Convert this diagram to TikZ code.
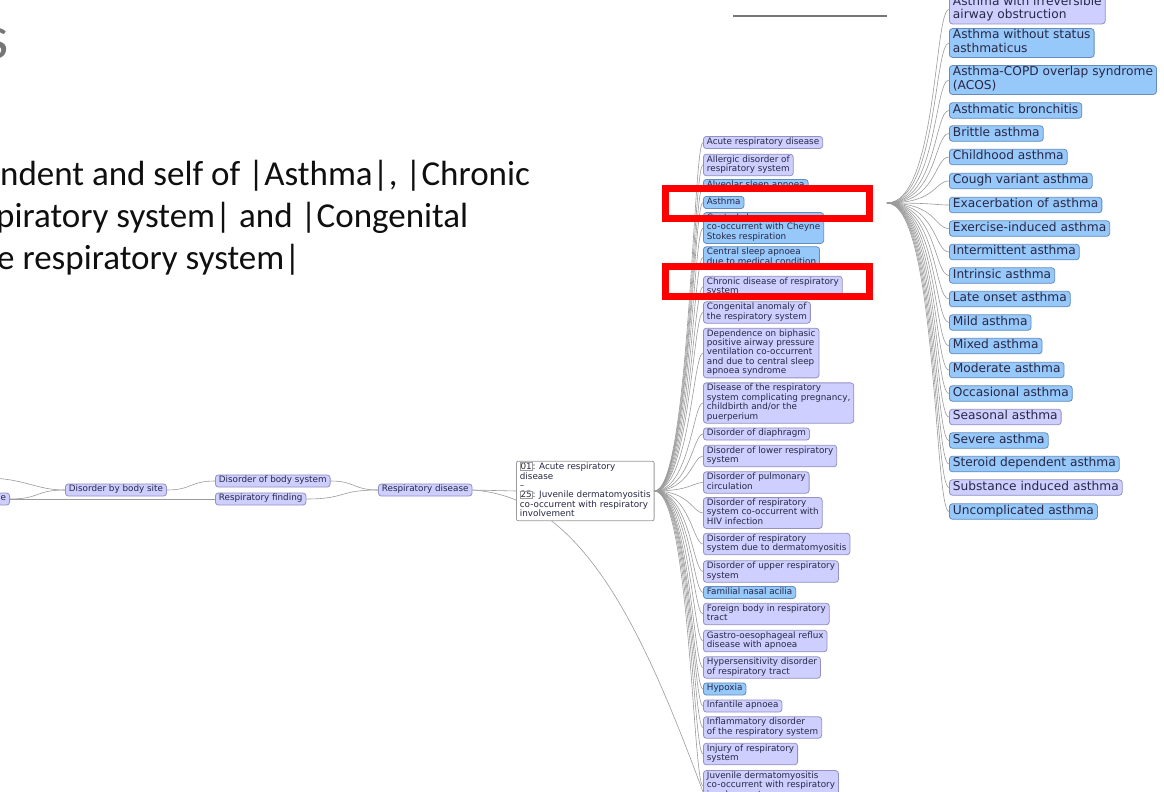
\documentclass[tikz,border=0pt]{standalone}
\usepackage{fontspec}
\setmainfont{Carlito}
\newfontfamily\vf{DejaVu Sans}
\usetikzlibrary{calc,backgrounds}
\definecolor{lavf}{RGB}{206,206,255}
\definecolor{lavd}{RGB}{145,145,195}
\definecolor{bluf}{RGB}{150,200,250}
\definecolor{blud}{RGB}{100,140,190}
\definecolor{ntxt}{RGB}{40,40,70}
\definecolor{lnk}{RGB}{155,155,155}
\definecolor{slidetxt}{RGB}{15,15,15}
\definecolor{titlegray}{RGB}{118,118,118}
\setlength{\fboxsep}{0.4pt}
\setlength{\fboxrule}{0.3pt}
\begin{document}
\begin{tikzpicture}[x=1pt,y=-1pt,
  nd/.style={draw, rounded corners=3pt, inner xsep=3.5pt, inner ysep=1.3pt, align=left, anchor=west,
    text=ntxt, font=\vf\fontsize{8.8}{9.4}\selectfont, execute at begin node=\strut, execute at end node=\strut, line width=0.8pt},
  lav/.style={nd, fill=lavf, draw=lavd},
  blu/.style={nd, fill=bluf, draw=blud},
  big/.style={font=\vf\fontsize{12.2}{13.5}\selectfont, inner ysep=1pt},
  infobox/.style={nd, fill=white, draw=lnk, rounded corners=2pt},
  link/.style={draw=lnk, line width=0.6pt},
  redbox/.style={draw=red, line width=7pt},
  slide/.style={anchor=base west, inner sep=0pt, text=slidetxt, font=\fontsize{35}{42}\selectfont},
]
\useasboundingbox (0,0) rectangle (1164,792);
\clip (0,0) rectangle (1164,792);

% slide text
\node[anchor=base east, inner sep=0pt, text=titlegray, font=\fontsize{62}{62}\selectfont] (ts) at (9,59) {s};
\node[slide] (t1) at (0,185) {ndent and self of |Asthma|, |Chronic};
\node[slide] (t2) at (-4,227) {piratory system| and |Congenital};
\node[slide] (t3) at (-3,269) {e respiratory system|};

% left tree
\node[lav, anchor=east] (ee) at (10,499) {e};
\node[lav] (dbs) at (65,490) {Disorder by body site};
\node[lav] (dobs) at (215,481) {Disorder of body system};
\node[lav] (rf) at (215,499) {Respiratory finding};
\node[lav] (rd) at (378,490) {Respiratory disease};
\node[infobox] (bx) at (516,491) {\fcolorbox{lnk}{white}{01}: Acute respiratory\\disease\\\textendash\\\fcolorbox{lnk}{white}{25}: Juvenile dermatomyositis\\co-occurrent with respiratory\\involvement};

% middle column
\node[lav] (m1) at (703,142.5) {Acute respiratory disease};
\node[lav] (m2) at (703,165) {Allergic disorder of\\respiratory system};
\node[blu] (m3) at (703,185.5) {Alveolar sleep apnoea};
\node[blu] (m4) at (703,202.5) {Asthma};
\node[blu] (m5) at (703,228) {Central sleep apnoea\\co-occurrent with Cheyne\\Stokes respiration};
\node[blu] (m6) at (703,257.5) {Central sleep apnoea\\due to medical condition};
\node[lav] (m7) at (703,287) {Chronic disease of respiratory\\system};
\node[lav] (m8) at (703,312.5) {Congenital anomaly of\\the respiratory system};
\node[lav] (m9) at (703,353) {Dependence on biphasic\\positive airway pressure\\ventilation co-occurrent\\and due to central sleep\\apnoea syndrome};
\node[lav] (m10) at (703,403) {Disease of the respiratory\\system complicating pregnancy,\\childbirth and/or the\\puerperium};
\node[lav] (m11) at (703,434) {Disorder of diaphragm};
\node[lav] (m12) at (703,456) {Disorder of lower respiratory\\system};
\node[lav] (m13) at (703,482.5) {Disorder of pulmonary\\circulation};
\node[lav] (m14) at (703,513) {Disorder of respiratory\\system co-occurrent with\\HIV infection};
\node[lav] (m15) at (703,544) {Disorder of respiratory\\system due to dermatomyositis};
\node[lav] (m16) at (703,571.5) {Disorder of upper respiratory\\system};
\node[blu] (m17) at (703,592.5) {Familial nasal acilia};
\node[lav] (m18) at (703,614) {Foreign body in respiratory\\tract};
\node[lav] (m19) at (703,641) {Gastro-oesophageal reflux\\disease with apnoea};
\node[lav] (m20) at (703,667.5) {Hypersensitivity disorder\\of respiratory tract};
\node[blu] (m21) at (703,689) {Hypoxia};
\node[lav] (m22) at (703,706) {Infantile apnoea};
\node[lav] (m23) at (703,727.5) {Inflammatory disorder\\of the respiratory system};
\node[lav] (m24) at (703,754) {Injury of respiratory\\system};
\node[lav] (m25) at (703,786) {Juvenile dermatomyositis\\co-occurrent with respiratory\\involvement};

% right column
\node[lav,big] (r0) at (949,9.5) {Asthma with irreversible\\airway obstruction};
\node[blu,big] (r1) at (949,43) {Asthma without status\\asthmaticus};
\node[blu,big] (r2) at (949,80) {Asthma-COPD overlap syndrome\\(ACOS)};
\node[blu,big] (r3) at (949,110.5) {Asthmatic bronchitis};
\node[blu,big] (r4) at (949,133.5) {Brittle asthma};
\node[blu,big] (r5) at (949,157) {Childhood asthma};
\node[blu,big] (r6) at (949,181) {Cough variant asthma};
\node[blu,big] (r7) at (949,205) {Exacerbation of asthma};
\node[blu,big] (r8) at (949,228.5) {Exercise-induced asthma};
\node[blu,big] (r9) at (949,252) {Intermittent asthma};
\node[blu,big] (r10) at (949,275.5) {Intrinsic asthma};
\node[blu,big] (r11) at (949,299) {Late onset asthma};
\node[blu,big] (r12) at (949,322.5) {Mild asthma};
\node[blu,big] (r13) at (949,346) {Mixed asthma};
\node[blu,big] (r14) at (949,370) {Moderate asthma};
\node[blu,big] (r15) at (949,393.5) {Occasional asthma};
\node[lav,big] (r16) at (949,417) {Seasonal asthma};
\node[blu,big] (r17) at (949,440.5) {Severe asthma};
\node[blu,big] (r18) at (949,464) {Steroid dependent asthma};
\node[lav,big] (r19) at (949,487.5) {Substance induced asthma};
\node[blu,big] (r20) at (949,511.5) {Uncomplicated asthma};

\coordinate (F2) at (887,203);
\coordinate (offl) at (-15,478);
\coordinate (offb) at (706,800);
\coordinate (tl1) at (733,16);
\coordinate (tl2) at (887,16);

\begin{scope}[on background layer]
  \fill[white] (0,0) rectangle (1164,792);
  \draw[link] (offl) .. controls +(40,0) and +(-30,0) .. (dbs.west);
  \draw[link] (ee.east) .. controls +(30,0) and +(-30,0) .. (dbs.west);
  \draw[link] (ee.east) -- (rf.west);
  \draw[link] (dbs.east) .. controls +(25,0) and +(-25,0) .. (dobs.west);
  \draw[link] (dobs.east) .. controls +(25,0) and +(-25,0) .. (rd.west);
  \draw[link] (rf.east) .. controls +(40,0) and +(-40,0) .. (rd.west);
  \draw[link] (rd.east) -- (bx.west);
  \draw[link] (rd.east) .. controls (580,497) and (640,620) .. (offb);
  \foreach \i in {1,...,25}{
    \draw[link] (bx.east) .. controls +(35,0) and +(-10,0) .. (m\i.west);
  }
  \foreach \i in {0,...,20}{
    \draw[link] (F2) .. controls +(50,0) and +(-15,0) .. (r\i.west);
  }
  \draw[draw=titlegray, line width=2.5pt] (tl1) -- (tl2);
\end{scope}

% highlight boxes
\draw[redbox] (665.5,188.5) rectangle (869.5,218.5);
\draw[redbox] (665.5,266.5) rectangle (869.5,296.5);
\end{tikzpicture}
\end{document}
